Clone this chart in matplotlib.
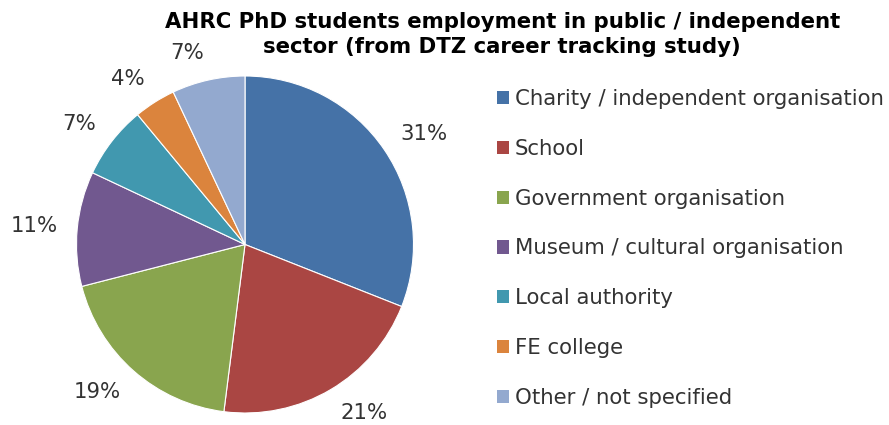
import matplotlib.pyplot as plt
from matplotlib.patches import Patch
import numpy as np

# Datos del gráfico
categorias = ['Charity / independent organisation', 'School', 'Government organisation',
              'Museum / cultural organisation', 'Local authority', 'FE college',
              'Other / not specified']
valores = [31, 21, 19, 11, 7, 4, 7]
colores = ['#4572A7', '#AA4643', '#89A54E', '#71588F', '#4198AF', '#DB843D', '#93A9CF']
titulo = ['AHRC PhD students employment in public / independent',
          'sector (from DTZ career tracking study)']

gris = '#333333'
fs = 15.3

fig = plt.figure(figsize=(8.89, 4.25), dpi=100)

# Ejes del pastel: radio 1 = 168.5 px, centro en (245, 180.5) px
R = 168.5
lim = 1.3
w = 2 * lim * R
ax = fig.add_axes([(245 - lim * R) / 889, (180.5 - lim * R) / 425, w / 889, w / 425])
cuñas, textos = ax.pie(valores, colors=colores, startangle=90, counterclock=False,
                       labels=['%d%%' % v for v in valores], labeldistance=1.2,
                       wedgeprops=dict(edgecolor='white', linewidth=0.8),
                       textprops=dict(fontsize=fs, color=gris, ha='center', va='center'))
ax.set_xlim(-lim, lim)
ax.set_ylim(-lim, lim)
ax.set_aspect('equal')
ax.axis('off')

# Etiquetas fuera de la cuña (como Excel: la caja junto al borde)
rend = fig.canvas.get_renderer()
hueco = 19.5
for c, t in zip(cuñas, textos):
    ang = np.deg2rad((c.theta1 + c.theta2) / 2)
    bb = t.get_window_extent(rend)
    px = (R + hueco) * np.cos(ang) + np.sign(np.cos(ang)) * bb.width / 2
    py = (R + hueco) * np.sin(ang) + np.sin(ang) * 8
    t.set_position((px / R, py / R))

# Título en dos líneas
fig.text(0.565, 1 - 22 / 425, titulo[0], ha='center', va='center', fontsize=fs, fontweight='bold')
fig.text(0.565, 1 - 47 / 425, titulo[1], ha='center', va='center', fontsize=fs, fontweight='bold')

handles = [Patch(facecolor=c) for c in colores]
fig.legend(handles, categorias, loc='upper left', bbox_to_anchor=(497 / 889, 0.790),
           frameon=False, fontsize=fs, labelspacing=1.40, borderpad=0, borderaxespad=0,
           handlelength=0.57, handleheight=0.57, handletextpad=0.28,
           labelcolor=gris)

fig.savefig('out.png', dpi=100)
